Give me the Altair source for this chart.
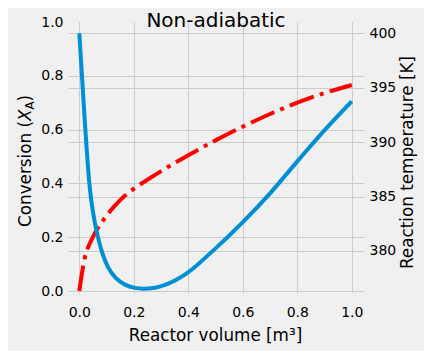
import altair as alt
import pandas as pd

# Reaction temperature [K] along the reactor (right axis)
volume_T = [0.0, 0.0099, 0.0191, 0.0283, 0.0393, 0.0521, 0.0668, 0.0833, 0.1053, 0.1347,
            0.1677, 0.2044, 0.2338, 0.2778, 0.3145, 0.394, 0.48, 0.602, 0.7, 0.804, 0.902, 1.0]
temperature = [400.0, 396.03, 392.35, 388.91, 385.6, 383.3, 381.46, 379.9, 378.52, 377.51,
               376.91, 376.61, 376.54, 376.63, 376.88, 377.94, 379.78, 382.7, 385.3, 388.35,
               391.15, 393.75]

# Conversion X_A along the reactor (left axis)
volume_X = [0.0, 0.005, 0.012, 0.021, 0.032, 0.045, 0.06, 0.08, 0.1, 0.125, 0.15, 0.2,
            0.26, 0.33, 0.4, 0.5, 0.6, 0.7, 0.8, 0.9, 1.0]
conversion = [0.0, 0.035, 0.08, 0.127, 0.162, 0.19, 0.22, 0.252, 0.28, 0.311, 0.338, 0.38,
              0.42, 0.464, 0.505, 0.56, 0.611, 0.658, 0.7, 0.736, 0.766]

x_ticks = [0.0, 0.2, 0.4, 0.6, 0.8, 1.0]
conv_ticks = [0.0, 0.2, 0.4, 0.6, 0.8, 1.0]
temp_ticks = [380, 385, 390, 395, 400]

df_T = pd.DataFrame({"V": volume_T, "T": temperature})
df_X = pd.DataFrame({"V": volume_X, "X": conversion})

FONT = "DejaVu Sans"
W, H = 296, 271

x_enc = alt.X("V:Q",
              scale=alt.Scale(domain=[-0.0415, 1.0448], nice=False, zero=False),
              axis=alt.Axis(values=x_ticks, format=".1f", title=None, grid=True,
                            labelPadding=12))

conv_axis = alt.Axis(
    orient="left", values=conv_ticks, format=".1f", title=None, grid=True,
    labelPadding=5,
    gridOpacity={"condition": {"test": "datum.value >= 1", "value": 0}, "value": 1},
)

conv_line = alt.Chart(df_X).mark_line(
    color="#ff0000", strokeWidth=4, strokeDash=[25.6, 6.4, 4, 6.4],
    strokeCap="butt", interpolate="monotone"
).encode(
    x=x_enc,
    y=alt.Y("X:Q",
            scale=alt.Scale(domain=[-0.0074, 1.0], nice=False, zero=False),
            axis=conv_axis),
)

temp_line = alt.Chart(df_T).mark_line(
    color="#008fd5", strokeWidth=4, strokeCap="butt", interpolate="monotone"
).encode(
    x=x_enc,
    y=alt.Y("T:Q",
            scale=alt.Scale(domain=[376.14, 401.04], nice=False, zero=False),
            axis=alt.Axis(orient="right", values=temp_ticks, format="d",
                          title=None, grid=True, labelPadding=5)),
)

one = pd.DataFrame({"k": [0]})


def txt(s, x, y, size=16.8, angle=0, align="center", style="normal"):
    return alt.Chart(one).mark_text(
        font=FONT, fontSize=size, angle=angle, align=align, baseline="alphabetic",
        fontStyle=style, color="black"
    ).encode(x=alt.value(x), y=alt.value(y), text=alt.value(s))


title = txt("Non-adiabatic", 148, 4.8, size=20)
xlabel = txt("Reactor volume [m³]", 147.5, 318.7)
rlabel = txt("Reaction temperature [K]", 345.3, 140.5, angle=270)
yl1 = txt("Conversion (", -37.5, 99, angle=270, align="right")
yl2 = txt("X", -37.5, 99, angle=270, align="left", style="italic")
yl3 = txt("A", -34, 87.5, size=11.8, angle=270, align="left")
yl4 = txt(")", -37.5, 79.5, angle=270, align="left")

chart = alt.layer(
    conv_line, temp_line, title, xlabel, rlabel, yl1, yl2, yl3, yl4
).resolve_scale(
    y="independent"
).properties(
    width=W, height=H,
    autosize=alt.AutoSizeParams(type="none"),
    padding={"left": 60, "top": 14, "right": 60, "bottom": 58},
    background="#f0f0f0",
).configure_view(
    strokeWidth=0, fill="#f0f0f0"
).configure_axis(
    domain=False, ticks=False, tickSize=0,
    gridColor="#cbcbcb", gridWidth=1,
    labelFont=FONT, labelFontSize=14, labelColor="black",
)

chart.save("out.html", embed_options={"renderer": "svg", "actions": False})
